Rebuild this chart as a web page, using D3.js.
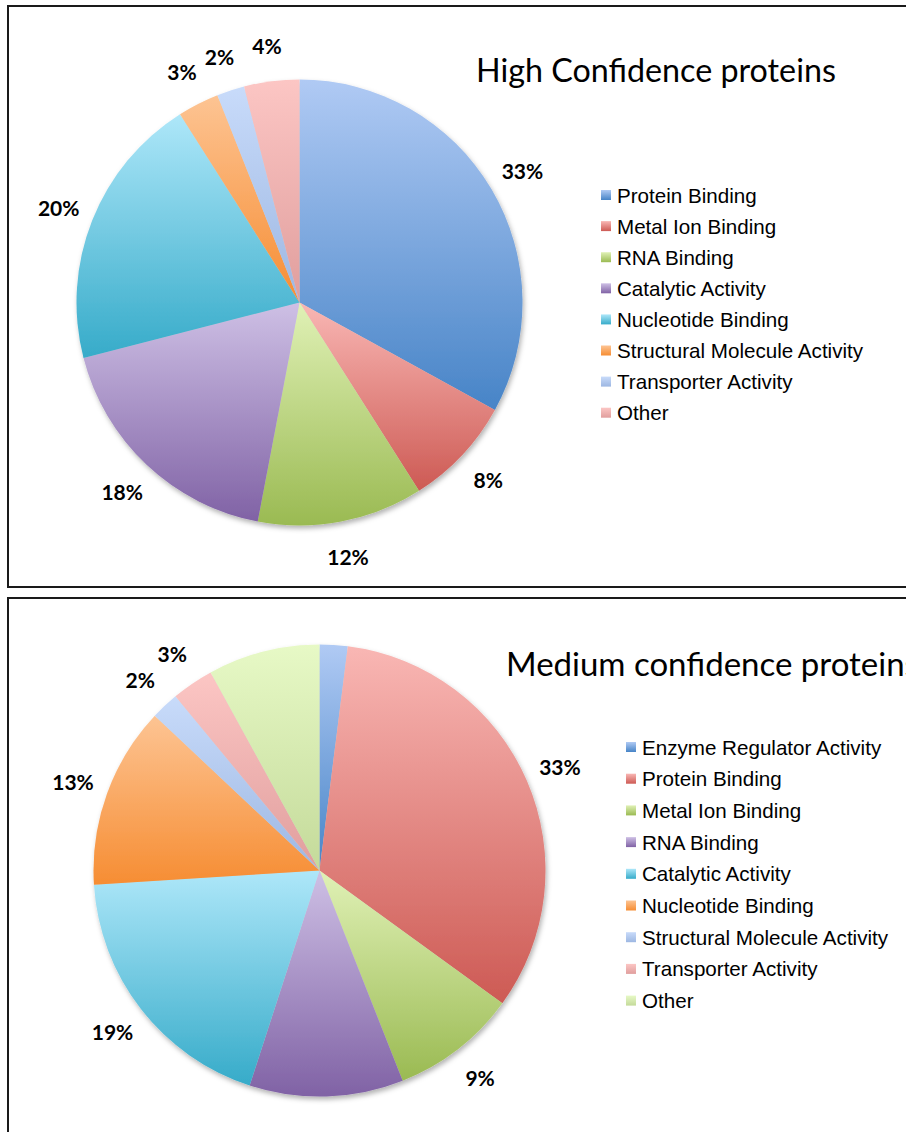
<!DOCTYPE html>
<html>
<head>
<meta charset="utf-8">
<script src="https://cdn.jsdelivr.net/npm/d3@7"></script>
<style>
  html, body { margin: 0; padding: 0; background: #fff; }
  svg { display: block; }
</style>
</head>
<body>
<script>
// ---- data ----
const highCategories = ["Protein Binding", "Metal Ion Binding", "RNA Binding", "Catalytic Activity",
  "Nucleotide Binding", "Structural Molecule Activity", "Transporter Activity", "Other"];
const highValues = [33, 8, 12, 18, 20, 3, 2, 4];
const highShowLabel = [true, true, true, true, true, true, true, true];

const mediumCategories = ["Enzyme Regulator Activity", "Protein Binding", "Metal Ion Binding", "RNA Binding",
  "Catalytic Activity", "Nucleotide Binding", "Structural Molecule Activity", "Transporter Activity", "Other"];
const mediumValues = [2, 33, 9, 11, 19, 13, 2, 3, 8];
const mediumShowLabel = [false, true, true, false, true, true, true, true, false];

// Office-style palette: [light top, saturated bottom]
const palette = [
  ["#b0caf4", "#4784c7"],
  ["#f9b7b4", "#cd5a54"],
  ["#e0f1b6", "#9aba52"],
  ["#cec0e5", "#8062a5"],
  ["#aee7f9", "#36abc9"],
  ["#fdc493", "#f68d33"],
  ["#c8dbfa", "#9db7e2"],
  ["#fcc6c4", "#e09e9d"],
  ["#e7f9c6", "#c4da9a"]
];

const W = 906, H = 1132;
const svg = d3.select("body").append("svg").attr("width", W).attr("height", H);
const defs = svg.append("defs");

palette.forEach((c, i) => {
  const g = defs.append("linearGradient").attr("id", "grad" + i)
    .attr("x1", 0).attr("y1", 0).attr("x2", 0).attr("y2", 1);
  g.append("stop").attr("offset", "0%").attr("stop-color", c[0]);
  g.append("stop").attr("offset", "100%").attr("stop-color", c[1]);
});

const shadow = defs.append("filter").attr("id", "pieShadow")
  .attr("x", "-10%").attr("y", "-10%").attr("width", "125%").attr("height", "125%");
shadow.append("feDropShadow").attr("dx", 1.5).attr("dy", 3).attr("stdDeviation", 2.5)
  .attr("flood-color", "#000").attr("flood-opacity", 0.3);

// panel frames
svg.append("rect").attr("x", 8).attr("y", 6).attr("width", 920).attr("height", 581)
  .attr("fill", "none").attr("stroke", "#1a1a1a").attr("stroke-width", 2);
svg.append("rect").attr("x", 8).attr("y", 598).attr("width", 920).attr("height", 560)
  .attr("fill", "none").attr("stroke", "#1a1a1a").attr("stroke-width", 2);

function drawPie(opts) {
  const { categories, values, showLabel, cx, cy, r, title, titleX, titleY, titleWidth,
          legendX, legendY, legendStep } = opts;
  const g = svg.append("g");

  const pie = d3.pie().sort(null).value(d => d)
    .startAngle(0).endAngle(2 * Math.PI);
  const arcs = pie(values);
  const arc = d3.arc().innerRadius(0).outerRadius(r);
  const labelArc = d3.arc().innerRadius(r + 36).outerRadius(r + 36);

  const slices = g.append("g").attr("transform", `translate(${cx},${cy})`)
    .attr("filter", "url(#pieShadow)");
  slices.selectAll("path").data(arcs).join("path")
    .attr("d", arc)
    .attr("fill", (d, i) => `url(#grad${i})`);

  const labels = g.append("g").attr("transform", `translate(${cx},${cy})`);
  labels.selectAll("text").data(arcs.filter((d, i) => showLabel[i])).join("text")
    .attr("transform", d => `translate(${labelArc.centroid(d)})`)
    .attr("text-anchor", "middle")
    .attr("dominant-baseline", "central")
    .attr("font-family", "Lato, 'Open Sans', sans-serif")
    .attr("font-weight", 700)
    .attr("font-size", 21)
    .attr("fill", "#000")
    .text(d => d3.format(".0f")(d.data) + "%");

  // title, sized so it spans the intended width
  const t = g.append("text")
    .attr("x", titleX).attr("y", titleY)
    .attr("font-family", "Lato, 'Open Sans', sans-serif")
    .attr("font-size", 30)
    .attr("fill", "#000")
    .text(title);
  const len = t.node().getComputedTextLength();
  t.attr("font-size", 30 * titleWidth / len);

  // legend
  const y = d3.scalePoint().domain(categories).range([legendY, legendY + legendStep * (categories.length - 1)]);
  const lg = g.append("g");
  const rows = lg.selectAll("g").data(categories).join("g")
    .attr("transform", d => `translate(${legendX},${y(d)})`);
  rows.append("rect")
    .attr("x", 0).attr("y", -5).attr("width", 10).attr("height", 10)
    .attr("fill", (d, i) => `url(#grad${i})`);
  rows.append("text")
    .attr("x", 16).attr("y", 0)
    .attr("dominant-baseline", "central")
    .attr("font-family", "'Liberation Sans', Arial, sans-serif")
    .attr("font-size", 20.6)
    .attr("fill", "#000")
    .text(d => d);
}

drawPie({
  categories: highCategories, values: highValues, showLabel: highShowLabel,
  cx: 299.5, cy: 302.5, r: 223,
  title: "High Confidence proteins", titleX: 476, titleY: 82, titleWidth: 360,
  legendX: 601, legendY: 195, legendStep: 31.1
});

drawPie({
  categories: mediumCategories, values: mediumValues, showLabel: mediumShowLabel,
  cx: 319.5, cy: 870.5, r: 226,
  title: "Medium confidence proteins", titleX: 506, titleY: 676, titleWidth: 413,
  legendX: 626, legendY: 747, legendStep: 31.7
});
</script>
</body>
</html>
